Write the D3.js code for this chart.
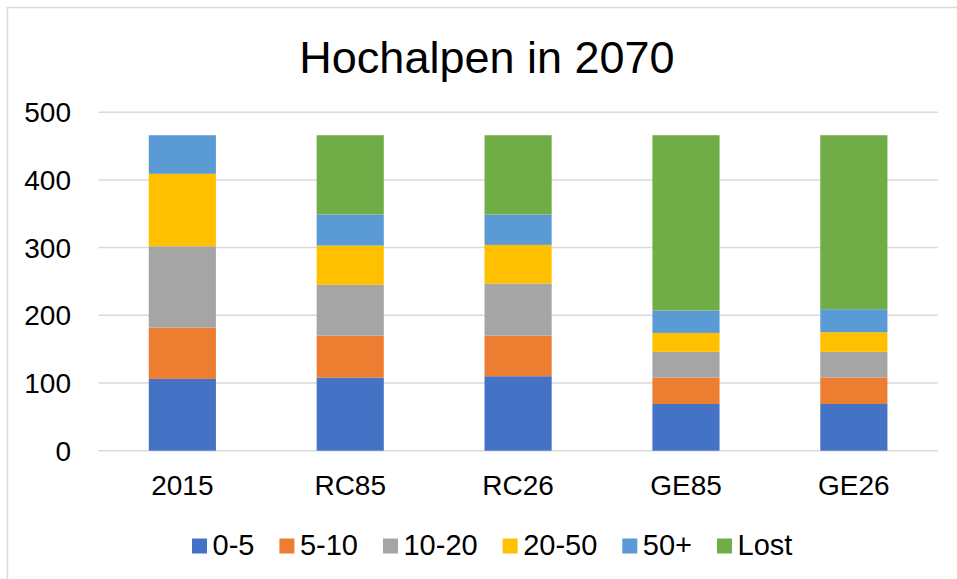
<!DOCTYPE html>
<html>
<head>
<meta charset="utf-8">
<script src="https://cdn.jsdelivr.net/npm/d3@7"></script>
<style>
  body { margin: 0; background: #fff; }
  text { font-family: "Liberation Sans", Arial, sans-serif; fill: #000; }
</style>
</head>
<body>
<div class="chart"></div>
<script>
// data
var categories = ["2015", "RC85", "RC26", "GE85", "GE26"];
var seriesNames = ["0-5", "5-10", "10-20", "20-50", "50+", "Lost"];
var v0_5 = [106, 108, 110, 69, 69];
var v5_10 = [76, 62, 60, 39, 39];
var v10_20 = [120, 75, 77, 38, 38];
var v20_50 = [107, 58, 57, 28, 29];
var v50plus = [57, 46, 45, 33, 34];
var vLost = [0, 117, 117, 259, 257];
var yTicks = [0, 100, 200, 300, 400, 500];
var colors = ["#4472C4", "#ED7D31", "#A5A5A5", "#FFC000", "#5B9BD5", "#70AD47"];

var seriesValues = [v0_5, v5_10, v10_20, v20_50, v50plus, vLost];
var rows = categories.map(function (c, i) {
    var r = {cat: c};
    seriesNames.forEach(function (s, j) { r[s] = seriesValues[j][i]; });
    return r;
});

var width = 957, height = 579;
var canvas = d3.select(".chart").append("svg")
        .attr("width", width)
        .attr("height", height);

// chart frame
canvas.append("rect")
        .attr("x", 7.5)
        .attr("y", 7.5)
        .attr("width", 1000)
        .attr("height", 1000)
        .attr("fill", "none")
        .attr("stroke", "#d9d9d9")
        .attr("stroke-width", 1.5);

var x = d3.scaleBand()
        .domain(categories)
        .range([98.4, 937.8])
        .paddingInner(0.6)
        .paddingOuter(0.3);

var y = d3.scaleLinear()
        .domain([0, 500])
        .range([450.7, 112.2]);

// gridlines
canvas.selectAll("line.grid")
        .data(yTicks)
        .enter()
        .append("line")
        .attr("class", "grid")
        .attr("x1", 98.4)
        .attr("x2", 937.8)
        .attr("y1", function (d) { return y(d); })
        .attr("y2", function (d) { return y(d); })
        .attr("stroke", "#d9d9d9")
        .attr("stroke-width", 1.5);

// y labels
canvas.selectAll("text.ylab")
        .data(yTicks)
        .enter()
        .append("text")
        .attr("class", "ylab")
        .attr("x", 71)
        .attr("y", function (d) { return y(d); })
        .attr("dy", "0.36em")
        .attr("text-anchor", "end")
        .attr("font-size", 28)
        .text(function (d) { return d; });

// stacked bars
var stack = d3.stack().keys(seriesNames);
var layers = stack(rows);

canvas.selectAll("g.layer")
        .data(layers)
        .enter()
        .append("g")
        .attr("class", "layer")
        .attr("fill", function (d, i) { return colors[i]; })
        .selectAll("rect")
        .data(function (d) { return d; })
        .enter()
        .append("rect")
        .attr("x", function (d) { return x(d.data.cat); })
        .attr("width", x.bandwidth())
        .attr("y", function (d) { return y(d[1]); })
        .attr("height", function (d) { return y(d[0]) - y(d[1]); });

// x labels
canvas.selectAll("text.xlab")
        .data(categories)
        .enter()
        .append("text")
        .attr("class", "xlab")
        .attr("x", function (d) { return x(d) + x.bandwidth() / 2; })
        .attr("y", 495)
        .attr("text-anchor", "middle")
        .attr("font-size", 28)
        .text(function (d) { return d; });

// title
canvas.append("text")
        .attr("x", 487)
        .attr("y", 73)
        .attr("text-anchor", "middle")
        .attr("font-size", 45)
        .text("Hochalpen in 2070");

// legend
var legend = canvas.append("g");
var lx = 192;
seriesNames.forEach(function (s, i) {
    legend.append("rect")
            .attr("x", lx)
            .attr("y", 538.5)
            .attr("width", 15)
            .attr("height", 15)
            .attr("fill", colors[i]);
    var t = legend.append("text")
            .attr("x", lx + 20.5)
            .attr("y", 555)
            .attr("font-size", 29)
            .text(s);
    lx = lx + 20.5 + t.node().getComputedTextLength() + 25;
});
</script>
</body>
</html>
